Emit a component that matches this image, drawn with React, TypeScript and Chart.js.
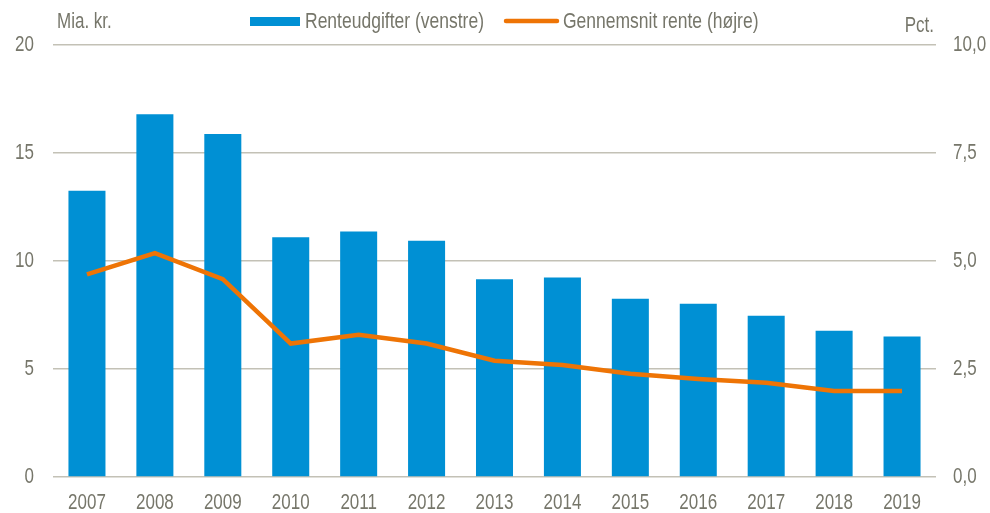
import React, { useEffect, useRef } from "react";
import { Chart, registerables } from "chart.js";

Chart.register(...registerables);

const years = ["2007", "2008", "2009", "2010", "2011", "2012", "2013", "2014", "2015", "2016", "2017", "2018", "2019"];
const renteudgifter = [13.25, 16.79, 15.88, 11.1, 11.36, 10.94, 9.15, 9.24, 8.25, 8.02, 7.47, 6.77, 6.5];
const gennemsnitRente = [4.69, 5.18, 4.58, 3.09, 3.29, 3.09, 2.69, 2.59, 2.39, 2.27, 2.18, 1.99, 1.99];
const leftTicks = [0, 5, 10, 15, 20];
const rightTicks = [0, 2.5, 5, 7.5, 10];
const leftTitle = "Mia. kr.";
const rightTitle = "Pct.";
const barLabel = "Renteudgifter (venstre)";
const lineLabel = "Gennemsnit rente (højre)";

const FONT = "'Liberation Sans', Arial, sans-serif";
const TEXT = "#76766A";
const GRID = "#C3C1B6";
const BLUE = "#0090D4";
const ORANGE = "#EE7405";
const STRETCH = 1.25;

function txt(ctx: CanvasRenderingContext2D, s: string, x: number, y: number, align: CanvasTextAlign, size = 17) {
  ctx.save();
  ctx.font = `${size}px ${FONT}`;
  ctx.fillStyle = TEXT;
  ctx.textBaseline = "middle";
  ctx.textAlign = align;
  ctx.translate(x, y);
  ctx.scale(1, STRETCH);
  ctx.fillText(s, 0, 0);
  ctx.restore();
}

const overlay = {
  id: "overlay",
  afterDraw(chart: any) {
    const ctx = chart.ctx;
    const ds = chart.data.datasets;
    const sx = chart.scales.x;
    const sy = chart.scales.y;
    const sy1 = chart.scales.y1;
    // tick labels
    leftTicks.forEach((v) => txt(ctx, String(v), sy.right - 19, sy.getPixelForValue(v), "right"));
    rightTicks.forEach((v) => txt(ctx, v.toFixed(1).replace(".", ","), sy1.left + 17, sy1.getPixelForValue(v), "left"));
    chart.data.labels.forEach((l: string, i: number) => txt(ctx, l, sx.getPixelForValue(i), sx.top + 26, "center"));
    // axis titles
    txt(ctx, leftTitle, 57, 22.5, "left");
    txt(ctx, rightTitle, 934, 26, "right");
    // legend
    ctx.save();
    ctx.fillStyle = ds[0].backgroundColor;
    ctx.fillRect(250, 17, 50, 9);
    ctx.strokeStyle = ds[1].borderColor;
    ctx.lineWidth = 4.5;
    ctx.lineCap = "round";
    ctx.beginPath();
    ctx.moveTo(506, 21);
    ctx.lineTo(557, 21);
    ctx.stroke();
    ctx.restore();
    txt(ctx, ds[0].label, 305, 21.5, "left", 17.5);
    txt(ctx, ds[1].label, 563, 21.5, "left", 17.5);
  },
};

export default function App() {
  const ref = useRef<HTMLCanvasElement>(null);
  useEffect(() => {
    if (!ref.current) return;
    const chart = new Chart(ref.current, {
      type: "bar",
      data: {
        labels: years,
        datasets: [
          {
            type: "bar",
            label: barLabel,
            data: renteudgifter,
            backgroundColor: BLUE,
            yAxisID: "y",
            barPercentage: 0.545,
            categoryPercentage: 1,
            order: 1,
          },
          {
            type: "line",
            label: lineLabel,
            data: gennemsnitRente,
            borderColor: ORANGE,
            backgroundColor: ORANGE,
            borderWidth: 4.5,
            pointRadius: 0,
            tension: 0,
            yAxisID: "y1",
            order: 0,
          } as any,
        ],
      },
      options: {
        responsive: false,
        animation: false,
        devicePixelRatio: 1,
        layout: { padding: { top: 45, left: 0, right: 0, bottom: 0 } },
        plugins: { legend: { display: false }, tooltip: { enabled: false } },
        scales: {
          x: {
            grid: { display: false },
            border: { display: false },
            ticks: { display: false },
            afterFit: (s: any) => { s.height = 36; },
          },
          y: {
            position: "left",
            min: 0,
            max: 20,
            ticks: { stepSize: 5, display: false },
            grid: { color: GRID, lineWidth: 1.5, drawTicks: false },
            border: { display: false },
            afterFit: (s: any) => { s.width = 53; },
          },
          y1: {
            position: "right",
            min: 0,
            max: 10,
            ticks: { stepSize: 2.5, display: false },
            grid: { display: false, drawTicks: false },
            border: { display: false },
            afterFit: (s: any) => { s.width = 54; },
          },
        },
      },
      plugins: [overlay],
    });
    return () => chart.destroy();
  }, []);
  return (
    <div style={{ position: "fixed", left: 0, top: 0, width: 990, height: 513, background: "#fff" }}>
      <canvas ref={ref} width={990} height={513} />
    </div>
  );
}
